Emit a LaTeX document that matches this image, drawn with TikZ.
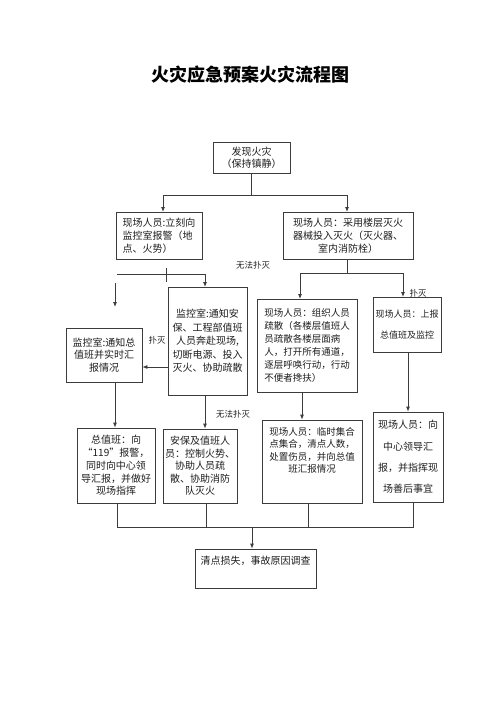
\documentclass[tikz,border=0pt]{standalone}
\usepackage{fontspec}
\setmainfont{Noto Sans CJK SC}
\usetikzlibrary{arrows.meta}
\definecolor{lncol}{HTML}{3C3C3C}
\definecolor{txcol}{HTML}{1E1E1E}
\tikzset{
  box/.style={draw=lncol, line width=0.8pt, inner sep=0pt, align=center,
    font=\fontsize{10}{13}\selectfont, text=txcol},
  txt/.style={inner sep=0pt, align=center, font=\fontsize{10}{13}\selectfont, text=txcol},
  conn/.style={draw=lncol, line width=0.8pt},
  arr/.style={conn, -{Latex[length=5pt,width=4pt]}},
  lbl/.style={inner sep=0pt, font=\fontsize{8.5}{10}\selectfont, text=txcol}
}
\begin{document}
\begin{tikzpicture}[x=1pt,y=-1pt]
\useasboundingbox (0,0) rectangle (500,707);
\node[text=black, font=\bfseries\fontsize{18}{20}\selectfont] (title) at (250,75) {火灾应急预案火灾流程图};

% boxes
\node[box, minimum width=77pt, minimum height=31pt, font=\fontsize{10}{11.5}\selectfont] (b1) at (251.5,157.5) {发现火灾\\（保持镇静）};
\node[box, minimum width=86pt, minimum height=47pt, align=left] (b2) at (159,235.5) {现场人员:立刻向\\监控室报警（地\\点、火势）};
\node[box, minimum width=130pt, minimum height=47pt] (b3) at (348,235.5) {现场人员：采用楼层灭火\\器械投入灭火（灭火器、\\室内消防栓）};
\node[box, minimum width=79pt, minimum height=108pt, font=\fontsize{10}{13.5}\selectfont] (b4) at (207.5,341) {监控室:通知安\\保、工程部值班\\人员奔赴现场,\\切断电源、投入\\灭火、协助疏散};
\node[box, minimum width=76pt, minimum height=54pt, font=\fontsize{10}{12.8}\selectfont] (b5) at (104,355) {监控室:通知总\\值班并实时汇\\报情况};
\node[box, minimum width=78pt, minimum height=75pt, font=\fontsize{10}{12.8}\selectfont] (b6) at (116,465.5) {总值班：向\\“119”报警，\\同时向中心领\\导汇报，并做好\\现场指挥};
\node[box, minimum width=74pt, minimum height=74pt, font=\fontsize{10}{12.5}\selectfont] (b7) at (200,466) {安保及值班人\\员：控制火势、\\协助人员疏\\散、协助消防\\队灭火};
\node[box, minimum width=100pt, minimum height=93pt, align=left, font=\fontsize{9.5}{13}\selectfont] (b8) at (307,345.5) {现场人员：组织人员\\疏散（各楼层值班人\\员疏散各楼层面病\\人，打开所有通道，\\逐层呼唤行动，行动\\不便者搀扶）};
\node[box, minimum width=68pt, minimum height=55pt, font=\fontsize{9}{21}\selectfont] (b9) at (407,324.5) {现场人员：上报\\总值班及监控};
\node[box, minimum width=100pt, minimum height=83pt] (b10) at (312,461.5) {};
\node[txt, anchor=north, font=\fontsize{9.5}{12.5}\selectfont] (b10t) at (312,427) {现场人员：临时集合\\点集合，清点人数，\\处置伤员，并向总值\\班汇报情况};
\node[box, minimum width=70pt, minimum height=90pt, font=\fontsize{10}{21.3}\selectfont] (b11) at (408,457) {现场人员：向\\中心领导汇\\报，并指挥现\\场善后事宜};
\node[box, minimum width=121pt, minimum height=39pt] (b12) at (255.5,568.5) {};
\node[txt, anchor=north] (b12t) at (255.5,555.5) {清点损失，事故原因调查};

% labels
\node[lbl] (l1) at (253,265) {无法扑灭};
\node[lbl] (l2) at (157,340) {扑灭};
\node[lbl] (l3) at (233,414) {无法扑灭};
\node[lbl] (l4) at (418,293) {扑灭};

% connectors: top split
\coordinate (j1) at (251.5,195);
\coordinate (b2in) at (163,212);
\coordinate (b3in) at (347,212);
\draw[conn] (b1.south) -- (j1);
\draw[arr] (j1) -| (b2in);
\draw[arr] (j1) -| (b3in);

% left branch
\coordinate (t1) at (166,268);
\coordinate (t2) at (166,282);
\draw[conn] (t1) -- (t2);
\coordinate (h1) at (117,274);
\coordinate (h2) at (205,274);
\coordinate (b4in) at (205,287);
\draw[conn] (h1) -- (h2);
\draw[arr] (h2) -- (b4in);
\coordinate (a1) at (115,283);
\coordinate (a2) at (115,307);
\draw[arr] (a1) -- (a2);
\coordinate (b4out) at (168,367);
\draw[arr] (b4out) -- (b5.east |- b4out);
\coordinate (b5out) at (115,382);
\draw[arr] (b5out) -- (b5out |- b6.north);
\coordinate (b4down) at (205,395);
\draw[arr] (b4down) -- (b4down |- b7.north);

% right branch
\coordinate (r0) at (347,259);
\coordinate (r1) at (347,273);
\coordinate (b8in) at (300,299);
\coordinate (b9in) at (403,297);
\draw[conn] (r0) -- (r1);
\draw[arr] (r1) -| (b8in);
\draw[arr] (r1) -| (b9in);
\coordinate (b8out) at (302,392);
\draw[arr] (b8out) -- (b8out |- b10.north);
\coordinate (b9out) at (408,352);
\draw[arr] (b9out) -- (b9out |- b11.north);

% bottom collector
\coordinate (c6) at (117,503);
\coordinate (c7) at (206,503);
\coordinate (c10) at (308,503);
\coordinate (c11) at (413,502);
\coordinate (cy) at (0,527);
\draw[conn] (c6) -- (c6 |- cy) -- (c11 |- cy) -- (c11);
\draw[conn] (c7) -- (c7 |- cy);
\draw[conn] (c10) -- (c10 |- cy);
\coordinate (cm) at (252,527);
\draw[arr] (cm) -- (cm |- b12.north);
\end{tikzpicture}
\end{document}
